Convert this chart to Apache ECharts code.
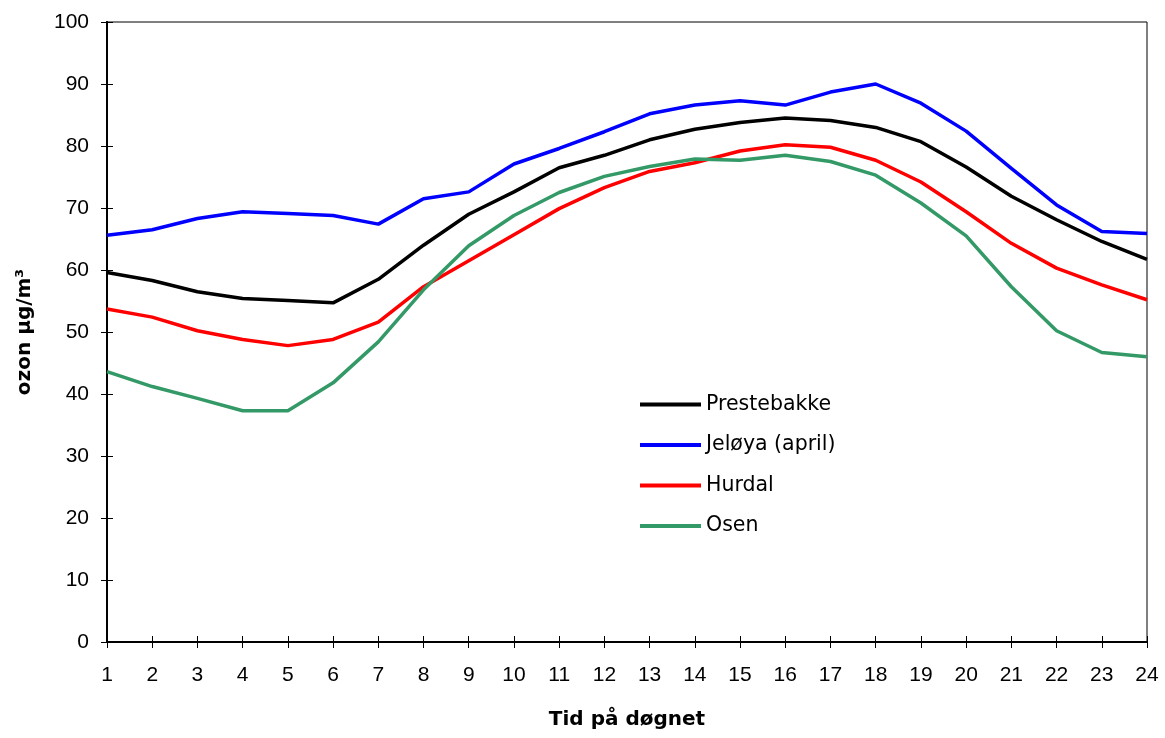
<!DOCTYPE html>
<html>
<head>
<meta charset="utf-8">
<script src="https://cdn.jsdelivr.net/npm/echarts@6/dist/echarts.min.js"></script>
<style>
  html, body { margin: 0; padding: 0; background: #fff; }
  #chart { width: 1165px; height: 738px; }
</style>
</head>
<body>
<div id="chart"></div>
<script>
const hours = ['1', '2', '3', '4', '5', '6', '7', '8', '9', '10', '11', '12',
  '13', '14', '15', '16', '17', '18', '19', '20', '21', '22', '23', '24'];

const prestebakke = [59.6, 58.3, 56.5, 55.4, 55.1, 54.7, 58.5, 64.0, 69.0, 72.6, 76.5, 78.5,
  81.0, 82.7, 83.8, 84.5, 84.1, 83.0, 80.7, 76.6, 71.9, 68.1, 64.6, 61.7];
const jeloya = [65.6, 66.5, 68.3, 69.4, 69.1, 68.8, 67.4, 71.5, 72.6, 77.1, 79.6, 82.3,
  85.2, 86.6, 87.3, 86.6, 88.7, 90.0, 86.9, 82.4, 76.4, 70.5, 66.2, 65.9];
const hurdal = [53.7, 52.4, 50.2, 48.8, 47.8, 48.8, 51.6, 57.3, 61.5, 65.7, 69.9, 73.3,
  75.9, 77.3, 79.2, 80.2, 79.8, 77.7, 74.2, 69.4, 64.3, 60.3, 57.6, 55.2];
const osen = [43.6, 41.2, 39.3, 37.3, 37.3, 41.8, 48.4, 56.8, 63.9, 68.8, 72.5, 75.1,
  76.7, 77.9, 77.7, 78.5, 77.5, 75.3, 70.8, 65.5, 57.3, 50.2, 46.7, 46.0];

const seriesDefs = [
  { name: 'Prestebakke', data: prestebakke, color: '#000000' },
  { name: 'Jeløya (april)', data: jeloya, color: '#0000ff' },
  { name: 'Hurdal', data: hurdal, color: '#ff0000' },
  { name: 'Osen', data: osen, color: '#339966' }
];

const font = 'Liberation Sans, Arial, sans-serif';
// the titles and legend in the original are set wider, DejaVu comes closest
const wideFont = 'DejaVu Sans, Liberation Sans, sans-serif';
const chart = echarts.init(document.getElementById('chart'));

const xBase = {
  type: 'category',
  data: hours,
  boundaryGap: false,
  position: 'bottom',
  axisLine: { lineStyle: { color: '#000', width: 2 } }
};
const yBase = {
  type: 'value',
  min: 0,
  max: 100,
  interval: 10,
  position: 'left',
  splitLine: { show: false },
  axisLine: { show: true, lineStyle: { color: '#000', width: 2 } }
};

chart.setOption({
  animation: false,
  textStyle: { fontFamily: font },
  grid: {
    left: 107, right: 18, top: 22, bottom: 96,
    show: true, borderColor: '#000', borderWidth: 1
  },
  legend: {
    orient: 'vertical',
    left: 635,
    top: 389,
    itemWidth: 61,
    itemHeight: 4,
    itemGap: 19.5,
    icon: 'rect',
    textStyle: { fontSize: 20.5, color: '#000', fontFamily: wideFont, lineHeight: 20 },
    data: seriesDefs.map(s => s.name)
  },
  xAxis: [
    Object.assign({}, xBase, {
      name: 'Tid på døgnet',
      nameLocation: 'middle',
      nameGap: 68,
      nameTextStyle: { fontSize: 20, fontWeight: 'bold', color: '#000', fontFamily: wideFont },
      axisTick: { show: true, inside: false, length: 6, lineStyle: { color: '#000', width: 1 } },
      axisLabel: { fontSize: 21, color: '#000', margin: 23 }
    }),
    Object.assign({}, xBase, {
      axisTick: { show: true, inside: true, length: 6, lineStyle: { color: '#000', width: 1 } },
      axisLabel: { show: false }
    })
  ],
  yAxis: [
    Object.assign({}, yBase, {
      name: 'ozon µg/m³',
      nameLocation: 'middle',
      nameGap: 72,
      nameTextStyle: { fontSize: 20, fontWeight: 'bold', color: '#000', fontFamily: wideFont },
      axisTick: { show: true, inside: false, length: 6, lineStyle: { color: '#000', width: 1 } },
      axisLabel: { fontSize: 21, color: '#000', margin: 18 }
    }),
    Object.assign({}, yBase, {
      axisTick: { show: true, inside: true, length: 6, lineStyle: { color: '#000', width: 1 } },
      axisLabel: { show: false }
    })
  ],
  series: seriesDefs.map(s => ({
    name: s.name,
    type: 'line',
    data: s.data,
    symbol: 'none',
    color: s.color,
    lineStyle: { color: s.color, width: 3.5 },
    itemStyle: { color: s.color }
  }))
});
</script>
</body>
</html>
